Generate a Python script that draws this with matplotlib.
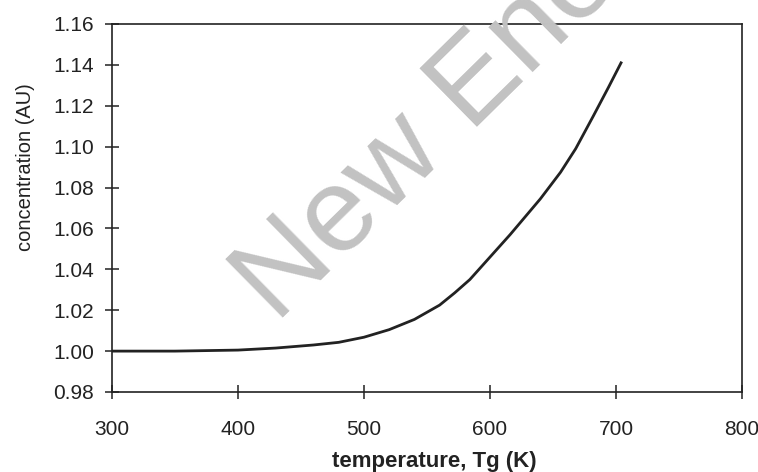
import matplotlib
matplotlib.use("Agg")
import matplotlib.pyplot as plt

# values
temperature_K = [300, 350, 400, 430, 460, 480, 500, 520, 540, 560, 572, 584,
                 600, 616, 640, 656, 668, 682, 694, 704]
concentration = [1.000, 1.000, 1.0005, 1.0015, 1.003, 1.0043, 1.0068, 1.0105,
                 1.0155, 1.0225, 1.0285, 1.035, 1.046, 1.057, 1.0745, 1.0875,
                 1.099, 1.115, 1.129, 1.141]

x_ticks = [300, 400, 500, 600, 700, 800]
y_ticks = [0.98, 1.00, 1.02, 1.04, 1.06, 1.08, 1.10, 1.12, 1.14, 1.16]

INK = "#222222"

plt.rcParams.update({
    "font.family": ["Liberation Sans", "DejaVu Sans"],
    "font.size": 15,
    "text.color": INK,
    "axes.edgecolor": INK,
    "xtick.color": INK,
    "ytick.color": INK,
})

W, H = 758, 472
fig = plt.figure(figsize=(W / 100, H / 100), dpi=100)
ax = fig.add_axes([112 / W, 1 - 392 / H, 630 / W, 368 / H])

# watermark, behind the axes
fig.text(276 / W, 1 - 324 / H, "New Energy", fontsize=86, color="#c2c2c2",
         rotation=44.5, ha="left", va="baseline", rotation_mode="anchor",
         zorder=0)

ax.plot(temperature_K, concentration, color=INK, lw=2.0, zorder=3,
        solid_joinstyle="round")
ax.set_facecolor("none")

ax.set_xlim(300, 800)
ax.set_ylim(0.98, 1.16)
ax.set_xticks(x_ticks)
ax.set_yticks(y_ticks)
ax.set_xticklabels([str(v) for v in x_ticks])
ax.set_yticklabels([f"{v:.2f}" for v in y_ticks])
ax.tick_params(direction="inout", length=10, width=1.1, labelsize=15)
ax.tick_params(axis="x", pad=15)
ax.tick_params(axis="y", pad=8)

for sp in ax.spines.values():
    sp.set_linewidth(1.2)

fig.text(434 / W, 1 - 461 / H, "temperature, Tg (K)", fontsize=16,
         fontweight="bold", ha="center", va="center")
fig.text(26 / W, 1 - 167 / H, "concentration (AU)", fontsize=14.5,
         rotation=90, ha="center", va="center")

fig.savefig("out.png", dpi=100)
